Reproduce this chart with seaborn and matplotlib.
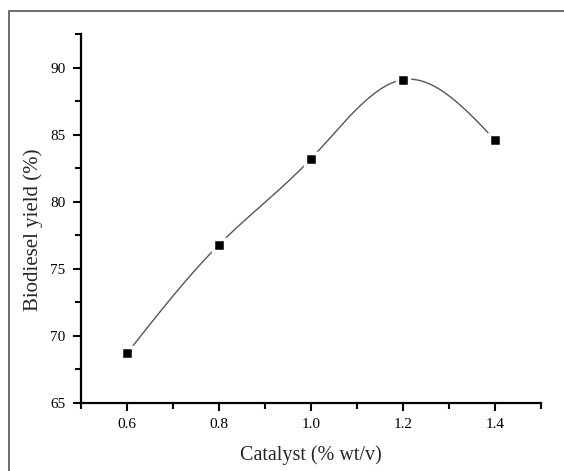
import numpy as np
import pandas as pd
import seaborn as sns
import matplotlib.pyplot as plt
from matplotlib.patches import Rectangle
from matplotlib.ticker import MultipleLocator

# data
catalyst = [0.6, 0.8, 1.0, 1.2, 1.4]
yield_pct = [68.7, 76.8, 83.2, 89.1, 84.6]

sns.set_style("ticks")
plt.rcParams['font.family'] = ['Liberation Serif', 'DejaVu Serif']


def natural_spline(x, y, n=300):
    # natural cubic spline through the points (connector line only)
    x = np.asarray(x, float)
    y = np.asarray(y, float)
    h = np.diff(x)
    k = len(x)
    A = np.zeros((k, k))
    b = np.zeros(k)
    A[0, 0] = A[-1, -1] = 1
    for i in range(1, k - 1):
        A[i, i - 1] = h[i - 1]
        A[i, i] = 2 * (h[i - 1] + h[i])
        A[i, i + 1] = h[i]
        b[i] = 6 * ((y[i + 1] - y[i]) / h[i] - (y[i] - y[i - 1]) / h[i - 1])
    M = np.linalg.solve(A, b)
    xs = np.linspace(x[0], x[-1], n)
    idx = np.clip(np.searchsorted(x, xs) - 1, 0, k - 2)
    x0, x1 = x[idx], x[idx + 1]
    hh = x1 - x0
    ys = (M[idx] * (x1 - xs) ** 3 / (6 * hh) + M[idx + 1] * (xs - x0) ** 3 / (6 * hh)
          + (y[idx] / hh - M[idx] * hh / 6) * (x1 - xs)
          + (y[idx + 1] / hh - M[idx + 1] * hh / 6) * (xs - x0))
    return xs, ys


df = pd.DataFrame({'Catalyst': catalyst, 'Yield': yield_pct})
xs, ys = natural_spline(catalyst, yield_pct)
curve = pd.DataFrame({'Catalyst': xs, 'Yield': ys})

fig = plt.figure(figsize=(5.64, 4.71), dpi=100)
ax = fig.add_axes([0.1436, 0.1444, 0.8156, 0.7834])

sns.lineplot(data=curve, x='Catalyst', y='Yield', ax=ax, color='#555555', lw=1.0)
ax.plot(df['Catalyst'], df['Yield'], ls='none', marker='s', ms=8,
        mfc='black', mec='white', mew=2.5, zorder=3)

ax.set_xlim(0.5, 1.5)
ax.set_ylim(65, 92.5)
ax.xaxis.set_major_locator(MultipleLocator(0.2))
ax.xaxis.set_minor_locator(MultipleLocator(0.1))
ax.yaxis.set_major_locator(MultipleLocator(5))
ax.yaxis.set_minor_locator(MultipleLocator(2.5))
ax.set_xticks([0.6, 0.8, 1.0, 1.2, 1.4])
ax.set_xticklabels(['0.6', '0.8', '1.0', '1.2', '1.4'])

sns.despine(ax=ax)
for s in ['left', 'bottom']:
    ax.spines[s].set_linewidth(1.6)
    ax.spines[s].set_color('black')
ax.tick_params(which='major', direction='out', length=6, width=1.5, labelsize=11,
               colors='black', pad=5)
ax.tick_params(which='minor', direction='out', length=4, width=1.5, colors='black')

ax.set_xlabel('Catalyst (% wt/v)', fontsize=14.5)
ax.set_ylabel('Biodiesel yield (%)', fontsize=15)
ax.xaxis.set_label_coords(0.5, -0.115)
ax.yaxis.set_label_coords(-0.083, 0.469)

# outer frame (only top and left edges are visible in the original)
fig.patches.append(Rectangle((9 / 564, -0.1), 1.2, (471 - 11) / 471 + 0.1,
                             transform=fig.transFigure, fill=False,
                             edgecolor='#555555', lw=1.2))

fig.savefig('out.png', dpi=100)
